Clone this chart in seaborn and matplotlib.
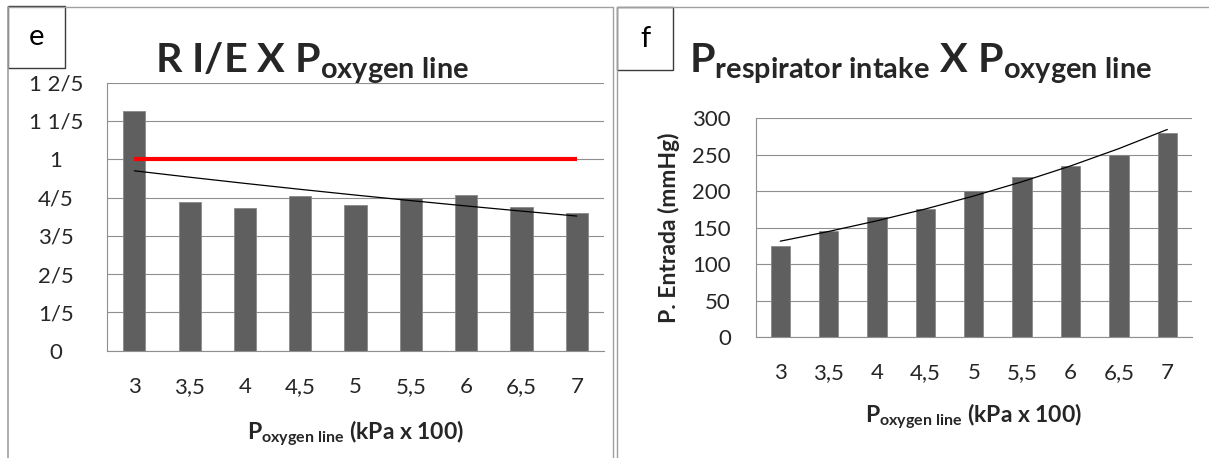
import numpy as np
import pandas as pd
import matplotlib
matplotlib.use("Agg")
import matplotlib.pyplot as plt
from matplotlib.patches import Rectangle
from matplotlib.lines import Line2D
import seaborn as sns

# ---------------- data ----------------
p_oxygen_line = ["3", "3,5", "4", "4,5", "5", "5,5", "6", "6,5", "7"]
ratio_ie = [1.253, 0.776, 0.747, 0.806, 0.761, 0.796, 0.812, 0.749, 0.719]
ratio_reference = [1, 1, 1, 1, 1, 1, 1, 1, 1]
p_entrada = [125, 145, 165, 175, 200, 220, 235, 250, 280]

left_yticks = [0, 0.2, 0.4, 0.6, 0.8, 1.0, 1.2, 1.4]
left_yticklabels = ["0", "1/5", "2/5", "3/5", "4/5", "1", "1 1/5", "1 2/5"]
right_yticks = [0, 50, 100, 150, 200, 250, 300]

# ---------------- style ----------------
sns.set_style("white")
plt.rcParams["font.family"] = ["Lato", "DejaVu Sans"]
plt.rcParams["mathtext.fontset"] = "custom"
plt.rcParams["mathtext.rm"] = "Lato"
plt.rcParams["mathtext.bf"] = "Lato:bold"
plt.rcParams["mathtext.it"] = "Lato:italic"

W, H = 1209, 458
fig = plt.figure(figsize=(W / 100, H / 100), dpi=100)


def fx(px):
    return px / W


def fy(py):
    return 1 - py / H


def axes_rect(x0, y0, x1, y1):
    return [fx(x0), fy(y1), fx(x1) - fx(x0), fy(y0) - fy(y1)]


GRID = "#8f8f8f"
BAR = "#5f5f5f"
BAR_EDGE = "#8a8a8a"
TICK_FS = 16

# ---------------- panel frames ----------------
frame_col = "#a0a0a0"
fig.add_artist(Line2D([fx(8.3), fx(8.3)], [fy(7), fy(470)], color=frame_col, lw=1.2, transform=fig.transFigure))
fig.add_artist(Line2D([fx(8.3), fx(613.3)], [fy(7), fy(7)], color=frame_col, lw=1.0, transform=fig.transFigure))
fig.add_artist(Line2D([fx(613.3), fx(613.3)], [fy(7), fy(470)], color=frame_col, lw=1.0, transform=fig.transFigure))
fig.add_artist(Line2D([fx(616.7), fx(616.7)], [fy(7), fy(470)], color=frame_col, lw=1.0, transform=fig.transFigure))
fig.add_artist(Line2D([fx(616.7), fx(1215)], [fy(7), fy(7)], color=frame_col, lw=1.0, transform=fig.transFigure))

# letter boxes
for (x0, y0, x1, y1, letter) in [(8.3, 5.7, 65, 67.7, "e"), (616.7, 7.3, 673.3, 70, "f")]:
    fig.add_artist(Rectangle((fx(x0), fy(y1)), fx(x1) - fx(x0), fy(y0) - fy(y1),
                             fill=True, facecolor="white", edgecolor="#3c3c3c", lw=1.0,
                             transform=fig.transFigure))
    fig.text(fx((x0 + x1) / 2), fy((y0 + y1) / 2), letter, ha="center", va="center",
             fontsize=21, color="black")


def style_axes(ax, yticks):
    ax.set_xlim(-0.5, len(p_oxygen_line) - 0.5)
    ax.set_yticks(yticks)
    ax.set_ylim(yticks[0], yticks[-1])
    ax.grid(axis="y", color=GRID, lw=0.8)
    ax.grid(axis="x", visible=False)
    ax.set_axisbelow(True)
    for s in ["top", "right"]:
        ax.spines[s].set_visible(False)
    for s in ["left", "bottom"]:
        ax.spines[s].set_color(GRID)
        ax.spines[s].set_linewidth(0.8)
    ax.set_xticks(np.arange(len(p_oxygen_line)))
    ax.set_xticklabels(p_oxygen_line)
    ax.set_xticks(np.arange(len(p_oxygen_line) + 1) - 0.5, minor=True)
    ax.tick_params(axis="x", which="major", length=0, pad=19, labelsize=TICK_FS)
    ax.tick_params(axis="x", which="minor", length=5.8, width=0.8, color=GRID, direction="out")
    ax.tick_params(axis="y", which="major", length=5.5, width=0.8, color=GRID, direction="out",
                   labelsize=TICK_FS)
    ax.set_facecolor("none")


# ---------------- left panel (e) ----------------
axL = fig.add_axes(axes_rect(106.7, 82.7, 604.4, 350.7))
idx = np.arange(len(p_oxygen_line))
dfL = pd.DataFrame({"x": p_oxygen_line, "y": ratio_ie})
sns.barplot(data=dfL, x="x", y="y", ax=axL, color=BAR, width=0.4, edgecolor=BAR_EDGE,
            linewidth=0.6, saturation=1, order=p_oxygen_line)
sns.lineplot(x=idx, y=ratio_reference, ax=axL, color="#ff0000", lw=3.0, solid_capstyle="butt")
bL, aL = np.polyfit(idx + 1, np.log(ratio_ie), 1)
trendL = np.exp(aL + bL * (idx + 1))
sns.lineplot(x=idx, y=trendL, ax=axL, color="black", lw=0.9)
style_axes(axL, left_yticks)
axL.set_yticklabels(left_yticklabels)
for lab in axL.get_yticklabels():
    lab.set_horizontalalignment("center")
axL.tick_params(axis="y", pad=31.0)
axL.set_xlabel(r"$\mathbf{P}_{\mathbf{oxygen\ line}}$ (kPa x 100)", fontsize=16.5,
               fontweight="bold", labelpad=15)
axL.set_ylabel("")

fig.text(fx(312), fy(71.7), r"R I/E X $\mathbf{P}_{\mathbf{oxygen\ line}}$", ha="center",
         va="baseline", fontsize=29.7, fontweight="bold")

# ---------------- right panel (f) ----------------
axR = fig.add_axes(axes_rect(756, 118.3, 1191.5, 337))
dfR = pd.DataFrame({"x": p_oxygen_line, "y": p_entrada})
sns.barplot(data=dfR, x="x", y="y", ax=axR, color=BAR, width=0.4, edgecolor=BAR_EDGE,
            linewidth=0.6, saturation=1, order=p_oxygen_line)
bR, aR = np.polyfit(idx + 1, np.log(p_entrada), 1)
trendR = np.exp(aR + bR * (idx + 1))
sns.lineplot(x=idx, y=trendR, ax=axR, color="black", lw=0.9)
style_axes(axR, right_yticks)
axR.tick_params(axis="y", pad=12.5)
axR.set_xlabel(r"$\mathbf{P}_{\mathbf{oxygen\ line}}$ (kPa x 100)", fontsize=16.5,
               fontweight="bold", labelpad=13)
axR.set_ylabel("P. Entrada (mmHg)", fontsize=16.5, fontweight="bold")
axR.yaxis.set_label_coords(-0.175, 0.5)

fig.text(fx(920), fy(71.7),
         r"$\mathbf{P}_{\mathbf{respirator\ intake}}$ X $\mathbf{P}_{\mathbf{oxygen\ line}}$",
         ha="center", va="baseline", fontsize=29.7, fontweight="bold")

fig.savefig("out.png", dpi=100, facecolor="white")
